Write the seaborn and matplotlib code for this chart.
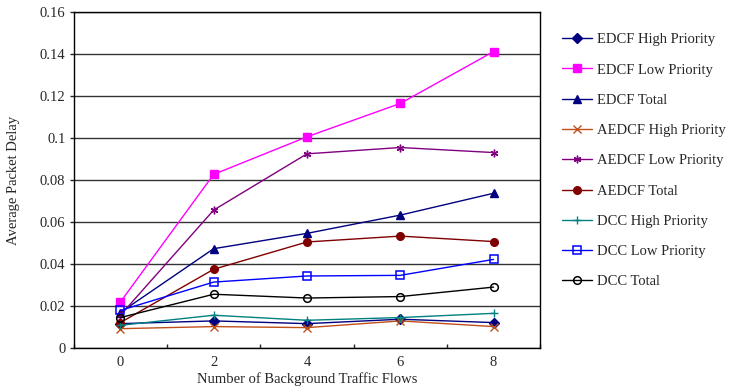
import numpy as np
import pandas as pd
import matplotlib
matplotlib.use("Agg")
import matplotlib.pyplot as plt
import seaborn as sns
from matplotlib.ticker import FuncFormatter, MultipleLocator

flows = [0, 2, 4, 6, 8]
edcf_high = [0.0116, 0.0129, 0.0116, 0.0137, 0.0121]
edcf_low = [0.0219, 0.0827, 0.1006, 0.1165, 0.1412]
edcf_total = [0.0169, 0.0473, 0.0546, 0.0633, 0.0737]
aedcf_high = [0.0092, 0.0102, 0.0097, 0.0129, 0.0102]
aedcf_low = [0.0156, 0.0657, 0.0925, 0.0955, 0.0931]
aedcf_total = [0.0121, 0.0375, 0.0505, 0.0533, 0.0507]
dcc_high = [0.0108, 0.0156, 0.0132, 0.0145, 0.0165]
dcc_low = [0.0179, 0.0314, 0.0343, 0.0346, 0.0422]
dcc_total = [0.0145, 0.0256, 0.0238, 0.0245, 0.0290]

series = [
    ("EDCF High Priority", edcf_high, "#000080", "D", True),
    ("EDCF Low Priority", edcf_low, "#FF00FF", "s", True),
    ("EDCF Total", edcf_total, "#000080", "^", True),
    ("AEDCF High Priority", aedcf_high, "#C0501A", "x", True),
    ("AEDCF Low Priority", aedcf_low, "#800080", (6, 2, 0), True),
    ("AEDCF Total", aedcf_total, "#800000", "o", True),
    ("DCC High Priority", dcc_high, "#008080", "+", True),
    ("DCC Low Priority", dcc_low, "#0000FF", "s", False),
    ("DCC Total", dcc_total, "#000000", "o", False),
]

sns.set_style("white")
plt.rcParams["font.family"] = ["Liberation Serif", "DejaVu Serif"]
plt.rcParams["font.size"] = 10.5

fig = plt.figure(figsize=(7.3, 3.91), dpi=100)
ax = fig.add_axes([0.101, 0.110, 0.639, 0.859])

for name, vals, col, mk, filled in series:
    df = pd.DataFrame({"x": flows, "y": vals})
    sns.lineplot(data=df, x="x", y="y", ax=ax, color=col, marker=mk, lw=1,
                 markersize=5.5 if mk not in ("x", "+") else 6,
                 markerfacecolor=col if filled else "none",
                 markeredgecolor=col, markeredgewidth=1 if filled else 1.1,
                 label=name)

ax.set_xlim(-1, 9)
ax.set_ylim(0, 0.16)
ax.xaxis.set_major_locator(MultipleLocator(2))
ax.xaxis.set_minor_locator(MultipleLocator(2, offset=1))
ax.yaxis.set_major_locator(MultipleLocator(0.02))
ax.yaxis.set_major_formatter(FuncFormatter(lambda v, p: f"{v:.2f}".rstrip("0").rstrip(".") if v else "0"))
ax.tick_params(axis="x", which="major", length=0, pad=6, labelsize=10.5)
ax.tick_params(axis="x", which="minor", direction="in", length=3, width=1, bottom=True)
ax.tick_params(axis="y", direction="out", length=3, width=1, left=True, pad=3, labelsize=10.5)
ax.grid(axis="y", color="#333333", lw=1)
ax.set_axisbelow(True)
for s in ax.spines.values():
    s.set_color("black")
    s.set_linewidth(1)

ax.set_xlabel("Number of Background Traffic Flows", labelpad=2)
ax.set_ylabel("Average Packet Delay", labelpad=14)

ax.legend(loc="upper left", bbox_to_anchor=(1.035, 0.955), frameon=False,
          labelspacing=1.17, handlelength=2.0, handletextpad=0.35, borderaxespad=0)

fig.savefig("out.png", dpi=100)
